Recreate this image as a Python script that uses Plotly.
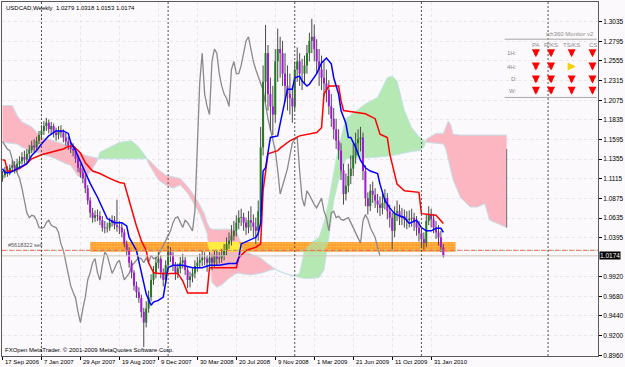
import plotly.graph_objects as go

# ---------------- data ----------------
date_labels = ["17 Sep 2006", "7 Jan 2007", "29 Apr 2007", "19 Aug 2007", "9 Dec 2007",
               "30 Mar 2008", "20 Jul 2008", "9 Nov 2008", "1 Mar 2009", "21 Jun 2009",
               "11 Oct 2009", "31 Jan 2010"]
date_label_bars = [0, 16, 32, 48, 64, 80, 96, 112, 128, 144, 160, 176]
year_separator_bars = [16, 68, 120, 172, 224]
price_ticks = [1.3035, 1.2795, 1.2555, 1.2315, 1.2075, 1.1835, 1.1595, 1.1355, 1.1115,
               1.0875, 1.0635, 1.0395, 0.9920, 0.9680, 0.9440, 0.9200, 0.8960]

first_open = 1.112
close = [1.116, 1.122, 1.119, 1.125, 1.128, 1.124, 1.130, 1.133, 1.138, 1.135,
         1.142, 1.147, 1.152, 1.150, 1.158, 1.165, 1.170, 1.176, 1.180, 1.172,
         1.176, 1.168, 1.165, 1.170, 1.168, 1.162, 1.157, 1.152, 1.148, 1.146,
         1.136, 1.125, 1.119, 1.112, 1.100, 1.085, 1.070, 1.064, 1.067, 1.066,
         1.061, 1.052, 1.051, 1.052, 1.058, 1.061, 1.055, 1.053, 1.052, 1.046,
         1.032, 1.024, 1.009, 0.997, 0.981, 0.973, 0.966, 0.949, 0.936, 0.953,
         0.967, 0.988, 0.997, 1.009, 1.014, 0.997, 0.988, 1.006, 1.022, 1.018,
         1.006, 0.996, 1.002, 1.009, 1.012, 1.000, 0.988, 0.992, 0.996, 1.005,
         1.009, 1.012, 1.015, 1.014, 1.009, 1.015, 1.009, 1.018, 1.014, 1.015,
         1.018, 1.024, 1.032, 1.036, 1.042, 1.048, 1.058, 1.064, 1.065, 1.058,
         1.052, 1.061, 1.058, 1.053, 1.048, 1.072, 1.150, 1.230, 1.265, 1.215,
         1.200, 1.190, 1.255, 1.270, 1.265, 1.240, 1.225, 1.215, 1.210, 1.200,
         1.245, 1.255, 1.240, 1.240, 1.250, 1.265, 1.280, 1.285, 1.270, 1.255,
         1.245, 1.235, 1.228, 1.220, 1.200, 1.185, 1.172, 1.158, 1.146, 1.122,
         1.093, 1.103, 1.115, 1.124, 1.140, 1.155, 1.160, 1.162, 1.121, 1.088,
         1.078, 1.097, 1.092, 1.085, 1.080, 1.076, 1.082, 1.088, 1.072, 1.064,
         1.048, 1.070, 1.072, 1.064, 1.066, 1.062, 1.061, 1.063, 1.064, 1.058,
         1.052, 1.045, 1.038, 1.033, 1.060, 1.068, 1.062, 1.052, 1.046, 1.040,
         1.0279, 1.0174]
high = [1.121, 1.126, 1.127, 1.129, 1.134, 1.133, 1.136, 1.139, 1.144, 1.146,
        1.148, 1.153, 1.158, 1.160, 1.163, 1.170, 1.177, 1.182, 1.186, 1.184,
        1.181, 1.179, 1.174, 1.176, 1.177, 1.172, 1.168, 1.163, 1.158, 1.155,
        1.150, 1.140, 1.130, 1.124, 1.116, 1.104, 1.089, 1.076, 1.073, 1.074,
        1.072, 1.066, 1.060, 1.058, 1.064, 1.067, 1.066, 1.086, 1.060, 1.058,
        1.050, 1.036, 1.028, 1.012, 1.000, 0.986, 0.979, 0.970, 0.954, 0.962,
        0.975, 0.995, 1.005, 1.016, 1.022, 1.018, 1.002, 1.012, 1.030, 1.028,
        1.022, 1.010, 1.008, 1.016, 1.020, 1.016, 1.004, 0.998, 1.002, 1.012,
        1.016, 1.020, 1.024, 1.022, 1.018, 1.022, 1.019, 1.024, 1.025, 1.022,
        1.026, 1.032, 1.040, 1.046, 1.055, 1.060, 1.067, 1.073, 1.075, 1.070,
        1.064, 1.072, 1.078, 1.068, 1.064, 1.085, 1.175, 1.250, 1.2995, 1.275,
        1.235, 1.225, 1.270, 1.295, 1.285, 1.280, 1.265, 1.250, 1.240, 1.225,
        1.255, 1.272, 1.265, 1.258, 1.262, 1.275, 1.290, 1.307, 1.300, 1.282,
        1.270, 1.262, 1.255, 1.245, 1.232, 1.215, 1.198, 1.185, 1.172, 1.155,
        1.130, 1.118, 1.130, 1.140, 1.155, 1.168, 1.172, 1.175, 1.168, 1.128,
        1.095, 1.105, 1.108, 1.100, 1.093, 1.090, 1.095, 1.099, 1.094, 1.080,
        1.070, 1.078, 1.085, 1.080, 1.076, 1.074, 1.072, 1.073, 1.075, 1.070,
        1.066, 1.060, 1.052, 1.046, 1.068, 1.078, 1.075, 1.068, 1.060, 1.055,
        1.048, 1.0318]
low = [1.108, 1.113, 1.114, 1.116, 1.121, 1.118, 1.120, 1.126, 1.129, 1.130,
       1.131, 1.137, 1.143, 1.144, 1.146, 1.154, 1.160, 1.165, 1.170, 1.167,
       1.166, 1.162, 1.158, 1.160, 1.162, 1.156, 1.152, 1.147, 1.143, 1.139,
       1.131, 1.120, 1.113, 1.106, 1.094, 1.080, 1.064, 1.058, 1.059, 1.060,
       1.055, 1.047, 1.045, 1.046, 1.048, 1.053, 1.050, 1.047, 1.044, 1.040,
       1.028, 1.018, 1.003, 0.990, 0.975, 0.966, 0.960, 0.942, 0.906, 0.930,
       0.948, 0.962, 0.982, 0.990, 1.002, 0.990, 0.980, 0.984, 1.000, 1.010,
       0.999, 0.988, 0.990, 0.996, 1.002, 0.994, 0.978, 0.979, 0.985, 0.990,
       0.998, 1.002, 1.005, 1.006, 0.998, 1.002, 1.000, 1.003, 1.006, 1.008,
       1.009, 1.012, 1.018, 1.026, 1.030, 1.036, 1.041, 1.050, 1.054, 1.048,
       1.043, 1.045, 1.048, 1.040, 1.032, 1.036, 1.065, 1.140, 1.205, 1.195,
       1.170, 1.165, 1.180, 1.230, 1.235, 1.225, 1.205, 1.195, 1.190, 1.180,
       1.195, 1.230, 1.225, 1.220, 1.228, 1.240, 1.255, 1.265, 1.255, 1.240,
       1.225, 1.220, 1.212, 1.205, 1.190, 1.175, 1.160, 1.148, 1.135, 1.110,
       1.080, 1.085, 1.095, 1.105, 1.115, 1.130, 1.140, 1.145, 1.110, 1.078,
       1.068, 1.072, 1.082, 1.076, 1.070, 1.066, 1.068, 1.074, 1.062, 1.052,
       1.025, 1.040, 1.060, 1.055, 1.055, 1.052, 1.050, 1.052, 1.053, 1.048,
       1.042, 1.035, 1.028, 1.025, 1.028, 1.055, 1.052, 1.045, 1.038, 1.030,
       1.022, 1.0153]

tenkan_bars = [0, 1, 3, 5, 7, 10, 12, 14, 16, 19, 22, 25, 27, 28, 30, 33, 36, 39, 41, 43,
               46, 49, 51, 52, 55, 57, 59, 61, 62, 64, 66, 68, 70, 74, 78, 82, 85, 89, 93, 96,
               97, 98, 101, 104, 105, 106, 107, 108, 110, 113, 114, 116, 117, 119, 120, 122, 123, 125, 126, 129,
               131, 133, 135, 136, 138, 139, 141, 142, 143, 145, 147, 149, 151, 154, 155, 157, 159, 161, 165, 167,
               170, 172, 174, 176, 178, 180, 181]
tenkan = [1.124, 1.119, 1.119, 1.122, 1.125, 1.130, 1.140, 1.146, 1.154, 1.164, 1.170, 1.170, 1.167, 1.156, 1.146, 1.125, 1.106, 1.089, 1.076, 1.063,
          1.058, 1.058, 1.054, 1.040, 1.024, 0.999, 0.971, 0.957, 0.961, 0.963, 0.967, 1.003, 1.006, 1.006, 1.003, 1.003, 1.006, 1.006, 1.008, 1.008,
          1.015, 1.032, 1.036, 1.040, 1.045, 1.057, 1.121, 1.125, 1.162, 1.164, 1.179, 1.207, 1.221, 1.221, 1.235, 1.237, 1.231, 1.225, 1.227, 1.240,
          1.253, 1.259, 1.252, 1.235, 1.215, 1.195, 1.179, 1.162, 1.162, 1.150, 1.134, 1.125, 1.121, 1.118, 1.105, 1.085, 1.076, 1.069, 1.064, 1.057,
          1.061, 1.052, 1.048, 1.048, 1.051, 1.051, 1.046]

kijun_bars = [0, 1, 2, 4, 7, 10, 12, 16, 21, 25, 27, 29, 32, 34, 37, 40, 44, 48, 50, 51,
              53, 55, 57, 59, 60, 62, 64, 72, 74, 76, 84, 85, 96, 97, 100, 104, 106, 107, 109, 113,
              114, 118, 122, 127, 129, 131, 132, 134, 138, 139, 140, 149, 153, 155, 158, 159, 162, 165, 171, 172,
              178, 181]
kijun = [1.135, 1.134, 1.121, 1.121, 1.124, 1.130, 1.136, 1.141, 1.145, 1.148, 1.151, 1.152, 1.143, 1.131, 1.121, 1.118, 1.112, 1.107, 1.106, 1.095,
         1.075, 1.054, 1.036, 1.024, 1.009, 0.997, 0.996, 0.996, 0.987, 0.972, 0.972, 1.003, 1.003, 1.015, 1.024, 1.028, 1.032, 1.097, 1.142, 1.146,
         1.149, 1.158, 1.164, 1.167, 1.168, 1.174, 1.215, 1.225, 1.225, 1.207, 1.195, 1.191, 1.185, 1.166, 1.162, 1.142, 1.105, 1.097, 1.095, 1.069,
         1.067, 1.057]

cloud_bars = [0, 4, 6, 8, 12, 16, 21, 26, 28, 31, 34, 37, 39, 40, 44, 48, 53, 56, 59, 60,
              62, 64, 67, 70, 73, 76, 79, 81, 83, 84, 85, 86, 88, 90, 93, 96, 97, 99, 102, 106,
              108, 110, 112, 114, 116, 118, 120, 122, 124, 127, 130, 132, 134, 136, 138, 141, 144, 149, 154, 158,
              160, 162, 165, 168, 171, 173, 174, 178, 181, 182, 183, 184, 185, 188, 192, 195, 198, 200, 203, 207]
senkou_a = [1.156, 1.155, 1.154, 1.150, 1.146, 1.142, 1.137, 1.130, 1.128, 1.115, 1.112, 1.124, 1.134, 1.144, 1.150, 1.156, 1.158, 1.150, 1.138, 1.130,
            1.120, 1.110, 1.104, 1.100, 1.104, 1.094, 1.079, 1.069, 1.053, 1.045, 1.020, 0.985, 0.979, 0.982, 0.990, 0.996, 0.996, 0.995, 0.994, 0.996,
            0.998, 1.000, 1.001, 0.998, 0.996, 0.994, 0.993, 0.996, 1.025, 1.034, 1.040, 1.058, 1.085, 1.120, 1.150, 1.185, 1.192, 1.203, 1.211, 1.235,
            1.237, 1.231, 1.195, 1.174, 1.163, 1.158, 1.156, 1.155, 1.154, 1.148, 1.135, 1.121, 1.110, 1.089, 1.077, 1.077, 1.081, 1.061, 1.057, 1.052]
senkou_b = [1.201, 1.201, 1.189, 1.181, 1.175, 1.162, 1.158, 1.153, 1.150, 1.145, 1.140, 1.138, 1.137, 1.136, 1.136, 1.136, 1.136, 1.136, 1.136, 1.135,
            1.129, 1.123, 1.116, 1.114, 1.112, 1.102, 1.090, 1.080, 1.068, 1.058, 1.052, 1.050, 1.050, 1.050, 1.050, 1.048, 1.040, 1.024, 1.020, 1.015,
            1.010, 1.005, 1.001, 0.998, 0.996, 0.994, 0.993, 0.991, 0.990, 0.990, 0.991, 1.000, 1.040, 1.085, 1.110, 1.136, 1.137, 1.137, 1.138, 1.139,
            1.140, 1.141, 1.143, 1.145, 1.146, 1.150, 1.160, 1.167, 1.167, 1.175, 1.182, 1.178, 1.166, 1.165, 1.165, 1.165, 1.165, 1.165, 1.165, 1.165]
cloud_end_line = [1.052, 1.148]

band_bars = [36, 186]          # orange rectangle object (time span)
band_prices = [1.0225, 1.0343]  # orange rectangle object (price span)
order_price = 1.0242
order_label = "#5618322 sell"
bid_price = 1.0174
header = "USDCAD,Weekly\u00a0\u00a01.0279 1.0318 1.0153 1.0174"
copyright_text = "FXOpen MetaTrader. \u00a9 2001-2009 MetaQuotes Software Corp."

monitor_title = "ich360 Monitor v2"
monitor_cols = ["PA", "R/KS", "TS/KS", "CS"]
monitor_rows = ["1H:", "4H:", "D:", "W:"]
monitor_signals = [["down", "down", "down", "down"],
                   ["down", "down", "flat", "down"],
                   ["down", "down", "down", "down"],
                   ["down", "down", "down", "down"]]

# ---------------- figure ----------------
PINK = "#fbb6c2"
GREEN = "#b6e8b4"
n = len(close)
bars = list(range(n))
opens = [first_open] + close[:-1]

fig = go.Figure()

# cloud polygons split by colour
runs = []
for k in range(len(cloud_bars) - 1):
    d = (senkou_a[k] + senkou_a[k + 1]) - (senkou_b[k] + senkou_b[k + 1])
    col = GREEN if d > 0 else PINK
    if runs and runs[-1][0] == col:
        runs[-1][2] = k + 1
    else:
        runs.append([col, k, k + 1])

for col, s, e in runs:
    xs = cloud_bars[s:e + 1] + cloud_bars[s:e + 1][::-1]
    ys = senkou_a[s:e + 1] + senkou_b[s:e + 1][::-1]
    fig.add_trace(go.Scatter(x=xs, y=ys, fill="toself", fillcolor=col, mode="lines",
                             line=dict(width=0), hoverinfo="skip", showlegend=False))

# senkou edge lines
for span in (senkou_a, senkou_b):
    fig.add_trace(go.Scatter(x=cloud_bars, y=span, mode="lines", line=dict(color="#c4e2ea", width=1),
                             hoverinfo="skip", showlegend=False))

# orange rectangle
bx = [band_bars[0], band_bars[1], band_bars[1], band_bars[0], band_bars[0]]
by = [band_prices[0], band_prices[0], band_prices[1], band_prices[1], band_prices[0]]
fig.add_trace(go.Scatter(x=bx, y=by, fill="toself", mode="lines", line=dict(width=0),
                         fillcolor="#ffa12e",
                         fillpattern=dict(shape=".", bgcolor="#ff9f2c", fgcolor="#ffcf7a", size=3, solidity=0.35),
                         hoverinfo="skip", showlegend=False))

# overlap of cloud with rectangle
def clip(v):
    return min(max(v, band_prices[0]), band_prices[1])

for col, s, e in runs:
    idx = [k for k in range(s, e + 1) if band_bars[0] <= cloud_bars[k] <= band_bars[1]]
    if len(idx) < 2:
        continue
    xs = [cloud_bars[k] for k in idx]
    top = [clip(max(senkou_a[k], senkou_b[k])) for k in idx]
    bot = [clip(min(senkou_a[k], senkou_b[k])) for k in idx]
    if all(t - b < 1e-6 for t, b in zip(top, bot)):
        continue
    if col == PINK:
        fig.add_trace(go.Scatter(x=xs + xs[::-1], y=top + bot[::-1], fill="toself", mode="lines",
                                 line=dict(width=0), fillcolor="#ffec40", hoverinfo="skip", showlegend=False))
    else:
        fig.add_trace(go.Scatter(x=xs + xs[::-1], y=top + bot[::-1], fill="toself", mode="lines",
                                 line=dict(width=0), fillcolor="#c8d27a",
                                 fillpattern=dict(shape="x", bgcolor="#bcdc98", fgcolor="#f0a040", size=3, solidity=0.4),
                                 hoverinfo="skip", showlegend=False))

# cloud end bar
fig.add_trace(go.Scatter(x=[cloud_bars[-1], cloud_bars[-1]], y=cloud_end_line, mode="lines",
                         line=dict(color="#707070", width=1), hoverinfo="skip", showlegend=False))

# chikou span (close shifted back 26 bars)
fig.add_trace(go.Scatter(x=[b - 26 for b in bars[26:]], y=close[26:], mode="lines",
                         line=dict(color="#8a8a8a", width=1.3), hoverinfo="skip", showlegend=False))

# candles: wicks and bodies
wx, wy, ux, uy, dx, dy = [], [], [], [], [], []
for i in bars:
    wx += [i, i, None]
    wy += [low[i], high[i], None]
    if close[i] >= opens[i]:
        ux += [i, i, None]
        uy += [opens[i], close[i], None]
    else:
        dx += [i, i, None]
        dy += [opens[i], close[i], None]
fig.add_trace(go.Scatter(x=wx, y=wy, mode="lines", line=dict(color="#4a4a4a", width=1),
                         hoverinfo="skip", showlegend=False))
fig.add_trace(go.Scatter(x=ux, y=uy, mode="lines", line=dict(color="#237a23", width=2),
                         hoverinfo="skip", showlegend=False))
fig.add_trace(go.Scatter(x=dx, y=dy, mode="lines", line=dict(color="#a21ad6", width=2),
                         hoverinfo="skip", showlegend=False))

# kijun / tenkan
fig.add_trace(go.Scatter(x=kijun_bars, y=kijun, mode="lines", line=dict(color="#ff0000", width=1.5),
                         hoverinfo="skip", showlegend=False))
fig.add_trace(go.Scatter(x=tenkan_bars, y=tenkan, mode="lines", line=dict(color="#0000ff", width=1.5),
                         hoverinfo="skip", showlegend=False))

shapes = []
# bid line and order line
shapes.append(dict(type="line", xref="paper", x0=0, x1=1, yref="y", y0=bid_price, y1=bid_price,
                   line=dict(color="#cfc4b8", width=1), layer="above"))
shapes.append(dict(type="line", xref="paper", x0=0, x1=1, yref="y", y0=order_price, y1=order_price,
                   line=dict(color="#ff5a5a", width=1, dash="4px,3px"), layer="above"))
shapes.append(dict(type="line", xref="paper", x0=0, x1=1, yref="y", y0=order_price, y1=order_price,
                   line=dict(color="#7ccf7c", width=1, dash="0px,4px,2px,1px"), layer="above"))
# year separators
for b in year_separator_bars:
    shapes.append(dict(type="line", xref="x", x0=b, x1=b, yref="paper", y0=0, y1=1,
                       line=dict(color="#505050", width=1, dash="2px,2px"), layer="above"))

# monitor table lines
shapes.append(dict(type="line", xref="paper", yref="paper", x0=0.8433, x1=0.998, y0=0.8949, y1=0.8949,
                   line=dict(color="#a8a8a8", width=1)))
shapes.append(dict(type="line", xref="paper", yref="paper", x0=0.8433, x1=0.998, y0=0.7304, y1=0.7304,
                   line=dict(color="#a8a8a8", width=1)))

ann = []
FONT = "Liberation Sans, Arial, sans-serif"
for b, t in zip(date_label_bars, date_labels):
    ann.append(dict(x=b, xref="x", y=0, yref="paper", yanchor="top", xanchor="left", text=t,
                    showarrow=False, xshift=1, yshift=-1, font=dict(size=6, color="#000", family=FONT)))
ann.append(dict(x=1, xref="paper", xanchor="left", y=bid_price, yref="y", yanchor="middle",
                text="1.0174", showarrow=False, bgcolor="#000000", borderpad=0, xshift=1,
                font=dict(size=6.5, color="#ffffff", family=FONT)))
ann.append(dict(x=0, xref="paper", xanchor="left", y=1, yref="paper", yanchor="top", text=header,
                showarrow=False, xshift=2, yshift=-1, font=dict(size=6, color="#000", family=FONT)))
ann.append(dict(x=0, xref="paper", xanchor="left", y=0, yref="paper", yanchor="bottom", text=copyright_text,
                showarrow=False, xshift=1, yshift=1, font=dict(size=6, color="#000", family=FONT)))
ann.append(dict(x=0, xref="paper", xanchor="left", y=order_price, yref="y", yanchor="bottom", text=order_label,
                showarrow=False, xshift=4, yshift=0, font=dict(size=5.5, color="#555", family=FONT)))
# monitor
ann.append(dict(x=0.9967, xref="paper", xanchor="right", y=0.9085, yref="paper", yanchor="middle",
                text=monitor_title, showarrow=False, font=dict(size=6, color="#8c8c8c", family=FONT)))
col_x = [0.8958, 0.9212, 0.9558, 0.9908]
row_y = [0.8555, 0.8177, 0.7811, 0.7493]
for cx, c in zip(col_x, monitor_cols):
    ann.append(dict(x=cx, xref="paper", xanchor="center", y=0.8789, yref="paper", yanchor="middle",
                    text=c, showarrow=False, font=dict(size=6, color="#8c8c8c", family=FONT)))
for ry, r in zip(row_y, monitor_rows):
    ann.append(dict(x=0.8667, xref="paper", xanchor="right", y=ry, yref="paper", yanchor="middle",
                    text=r, showarrow=False, font=dict(size=6, color="#8c8c8c", family=FONT)))
for ry, row in zip(row_y, monitor_signals):
    for cx, s in zip(col_x, row):
        if s == "down":
            ann.append(dict(x=cx, xref="paper", y=ry - 4 / 355, yref="paper", text="", showarrow=True,
                            ax=0, ay=-8, arrowhead=2, arrowsize=0.55, arrowwidth=2.9, arrowcolor="#ff0000"))
        else:
            ann.append(dict(x=cx + 4 / 600, xref="paper", y=ry, yref="paper", text="", showarrow=True,
                            ax=-8, ay=0, arrowhead=2, arrowsize=0.55, arrowwidth=2.9, arrowcolor="#f2d200"))

fig.update_layout(
    width=625, height=367, margin=dict(l=2, r=23, t=1, b=11),
    paper_bgcolor="#fbf9fb", plot_bgcolor="#fbf9fb",
    shapes=shapes, annotations=ann, showlegend=False,
    xaxis=dict(range=[-0.2, 244.5], showgrid=True, gridcolor="#ebe4eb", griddash="dot",
               tickvals=date_label_bars, ticks="outside", ticklen=3, tickcolor="#000",
               showticklabels=False, showline=True, mirror=True, linecolor="#5a5a5a", linewidth=1,
               zeroline=False, fixedrange=True),
    yaxis=dict(range=[0.8951, 1.3275], side="right", tickvals=price_ticks,
               ticktext=["%.4f" % v for v in price_ticks], ticks="outside", ticklen=3, tickcolor="#000",
               tickfont=dict(size=6.5, color="#000", family=FONT), showgrid=True, gridcolor="#ebe4eb",
               griddash="dot", showline=True, mirror=True, linecolor="#5a5a5a", linewidth=1,
               zeroline=False, fixedrange=True),
)

fig.write_html("out.html")
